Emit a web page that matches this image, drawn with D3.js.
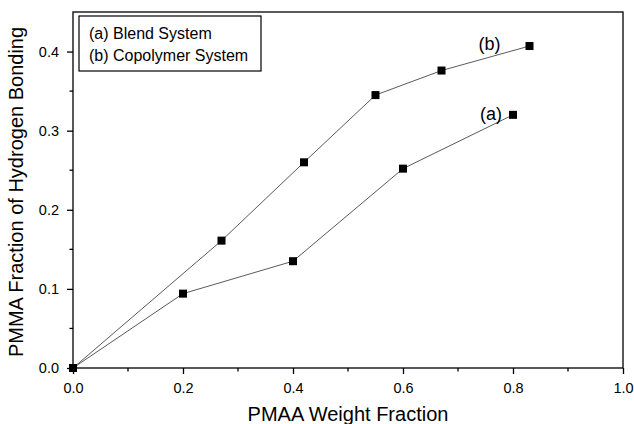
<!DOCTYPE html>
<html>
<head>
<meta charset="utf-8">
<script src="https://cdn.jsdelivr.net/npm/d3@7/dist/d3.min.js"></script>
<style>
  html, body { margin: 0; padding: 0; background: #fff; }
  svg { display: block; font-family: "Liberation Sans", Arial, sans-serif; }
</style>
</head>
<body>
<svg id="chart" width="634" height="424"></svg>
<script>
// Blend system (a)
const blendX = [0.0, 0.20, 0.40, 0.60, 0.80];
const blendY = [0.0, 0.094, 0.135, 0.252, 0.320];
// Copolymer system (b)
const copoX = [0.0, 0.27, 0.42, 0.55, 0.67, 0.83];
const copoY = [0.0, 0.161, 0.260, 0.345, 0.376, 0.407];

const xTicks = [0.0, 0.2, 0.4, 0.6, 0.8, 1.0];
const yTicks = [0.0, 0.1, 0.2, 0.3, 0.4];
const xMinor = [0.1, 0.3, 0.5, 0.7, 0.9];
const yMinor = [0.05, 0.15, 0.25, 0.35];

const legendLines = ["(a) Blend System", "(b) Copolymer System"];

const svg = d3.select("#chart");
const plotL = 73, plotR = 623, plotT = 12, plotB = 368;

const x = d3.scaleLinear().domain([0, 1]).range([plotL, plotR]);
const y = d3.scaleLinear().domain([0, 0.45]).range([plotB, plotT]);

// frame
svg.append("rect")
  .attr("x", plotL).attr("y", plotT)
  .attr("width", plotR - plotL).attr("height", plotB - plotT)
  .attr("fill", "none").attr("stroke", "#000").attr("stroke-width", 1.3);

// bottom axis
const xAxis = d3.axisBottom(x).tickValues(xTicks).tickSize(6).tickPadding(9)
  .tickFormat(d3.format(".1f"));
const gx = svg.append("g").attr("transform", `translate(0,${plotB})`).call(xAxis);
gx.select(".domain").remove();
gx.selectAll(".tick line").attr("stroke-width", 1.3);
gx.selectAll("text").attr("font-size", 14.5).attr("fill", "#000")
  .attr("font-family", "'Liberation Sans', Arial, sans-serif");
gx.selectAll(".minor").data(xMinor).join("line")
  .attr("class", "minor")
  .attr("x1", d => x(d)).attr("x2", d => x(d))
  .attr("y1", 0).attr("y2", 3.5).attr("stroke", "#000").attr("stroke-width", 1.3);

// left axis
const yAxis = d3.axisLeft(y).tickValues(yTicks).tickSize(6).tickPadding(8)
  .tickFormat(d3.format(".1f"));
const gy = svg.append("g").attr("transform", `translate(${plotL},0)`).call(yAxis);
gy.select(".domain").remove();
gy.selectAll(".tick line").attr("stroke-width", 1.3);
gy.selectAll("text").attr("font-size", 14.5).attr("fill", "#000")
  .attr("font-family", "'Liberation Sans', Arial, sans-serif");
gy.selectAll(".minor").data(yMinor).join("line")
  .attr("class", "minor")
  .attr("y1", d => y(d)).attr("y2", d => y(d))
  .attr("x1", 0).attr("x2", -3.5).attr("stroke", "#000").attr("stroke-width", 1.3);

// axis titles
svg.append("text")
  .attr("x", 348).attr("y", 421)
  .attr("text-anchor", "middle").attr("font-size", 20)
  .text("PMAA Weight Fraction");
svg.append("text")
  .attr("transform", `translate(23,${(plotT + plotB) / 2 + 2}) rotate(-90)`)
  .attr("text-anchor", "middle").attr("font-size", 20)
  .text("PMMA Fraction of Hydrogen Bonding");

// series
const line = d3.line().x(d => x(d[0])).y(d => y(d[1]));
const series = [
  { xs: blendX, ys: blendY },
  { xs: copoX, ys: copoY }
];
const size = 8;
series.forEach(s => {
  const pts = s.xs.map((v, i) => [v, s.ys[i]]);
  svg.append("path").datum(pts)
    .attr("d", line).attr("fill", "none")
    .attr("stroke", "#5a5a5a").attr("stroke-width", 1);
  svg.append("g").selectAll("rect").data(pts).join("rect")
    .attr("x", d => x(d[0]) - size / 2).attr("y", d => y(d[1]) - size / 2)
    .attr("width", size).attr("height", size).attr("fill", "#000");
});

// curve labels placed near the end points
const lastA = blendX.length - 1, lastB = copoX.length - 1;
svg.append("text")
  .attr("x", x(blendX[lastA]) - 22).attr("y", y(blendY[lastA]) + 5)
  .attr("text-anchor", "middle").attr("font-size", 18).text("(a)");
svg.append("text")
  .attr("x", x(copoX[lastB]) - 40).attr("y", y(copoY[lastB]) + 4)
  .attr("text-anchor", "middle").attr("font-size", 18).text("(b)");

// legend
svg.append("rect")
  .attr("x", 79).attr("y", 16).attr("width", 182).attr("height", 55)
  .attr("fill", "#fff").attr("stroke", "#000").attr("stroke-width", 1.2);
svg.selectAll(".leg").data(legendLines).join("text")
  .attr("class", "leg")
  .attr("x", 89).attr("y", (d, i) => 38.5 + i * 22.5)
  .attr("font-size", 16).text(d => d);
</script>
</body>
</html>
